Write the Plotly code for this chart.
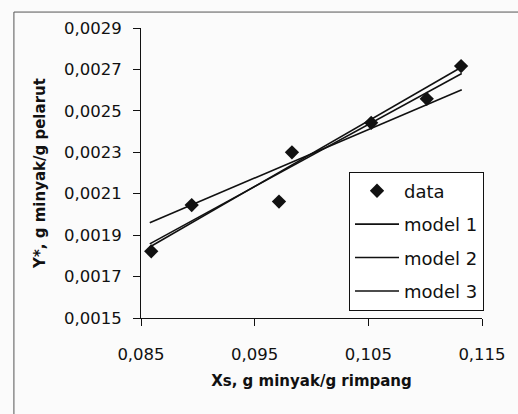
import plotly.graph_objects as go

# Data
data_x = [0.08590, 0.08946, 0.09714, 0.09828, 0.10525, 0.11014, 0.11316]
data_y = [0.001822, 0.002045, 0.002062, 0.002300, 0.002442, 0.002558, 0.002716]

model_x = [0.08577, 0.11322]
model1_y = [0.001960, 0.002602]
model2_y = [0.001843, 0.002712]
model3_y = [0.001858, 0.002680]

x_ticks = [0.085, 0.095, 0.105, 0.115]
x_tick_labels = ["0,085", "0,095", "0,105", "0,115"]
y_ticks = [0.0015, 0.0017, 0.0019, 0.0021, 0.0023, 0.0025, 0.0027, 0.0029]
y_tick_labels = ["0,0015", "0,0017", "0,0019", "0,0021", "0,0023", "0,0025", "0,0027", "0,0029"]

FONT = "DejaVu Sans"
INK = "#111111"

fig = go.Figure()
fig.add_trace(go.Scatter(x=data_x, y=data_y, mode="markers", name="data",
                         legendgroup="a",
                         marker=dict(symbol="diamond", size=11, color=INK)))
fig.add_trace(go.Scatter(x=model_x, y=model1_y, mode="lines", name="model 1",
                         legendgroup="b", line=dict(color=INK, width=1.6)))
fig.add_trace(go.Scatter(x=model_x, y=model2_y, mode="lines", name="model 2",
                         legendgroup="c", line=dict(color=INK, width=1.6)))
fig.add_trace(go.Scatter(x=model_x, y=model3_y, mode="lines", name="model 3",
                         legendgroup="d", line=dict(color=INK, width=1.6)))

fig.update_layout(
    width=518, height=414,
    margin=dict(l=141, r=25.5, t=28, b=96),
    paper_bgcolor="#fbfbfb", plot_bgcolor="#fbfbfb",
    font=dict(family=FONT, size=16.5, color=INK),
    showlegend=True,
    legend=dict(x=0.61, y=0.505, xanchor="left", yanchor="top",
                bgcolor="white", bordercolor=INK, borderwidth=1,
                font=dict(family=FONT, size=18, color=INK),
                tracegroupgap=7, traceorder="grouped", itemwidth=44),
    xaxis=dict(range=[0.085, 0.115], tickvals=x_ticks, ticktext=x_tick_labels,
               showgrid=False, zeroline=False, showline=True, linecolor=INK, linewidth=1,
               ticks="outside", ticklen=7, tickcolor=INK, ticklabelstandoff=14,
               title=dict(text="<b>Xs, g minyak/g rimpang</b>", standoff=12,
                          font=dict(family=FONT, size=15, color=INK))),
    yaxis=dict(range=[0.0015, 0.0029], tickvals=y_ticks, ticktext=y_tick_labels,
               showgrid=False, zeroline=False, showline=True, linecolor=INK, linewidth=1,
               ticks="outside", ticklen=7, tickcolor=INK, ticklabelstandoff=8,
               title=dict(text="<b>Y*, g minyak/g pelarut</b>", standoff=14,
                          font=dict(family=FONT, size=15, color=INK))),
    shapes=[
        dict(type="line", xref="paper", yref="paper", x0=-0.3727, x1=-0.3727, y0=1.055, y1=-0.5,
             line=dict(color="#555555", width=1)),
        dict(type="line", xref="paper", yref="paper", x0=-0.3727, x1=1.2, y0=1.055, y1=1.055,
             line=dict(color="#555555", width=1)),
    ],
)

fig.write_html("out.html")
